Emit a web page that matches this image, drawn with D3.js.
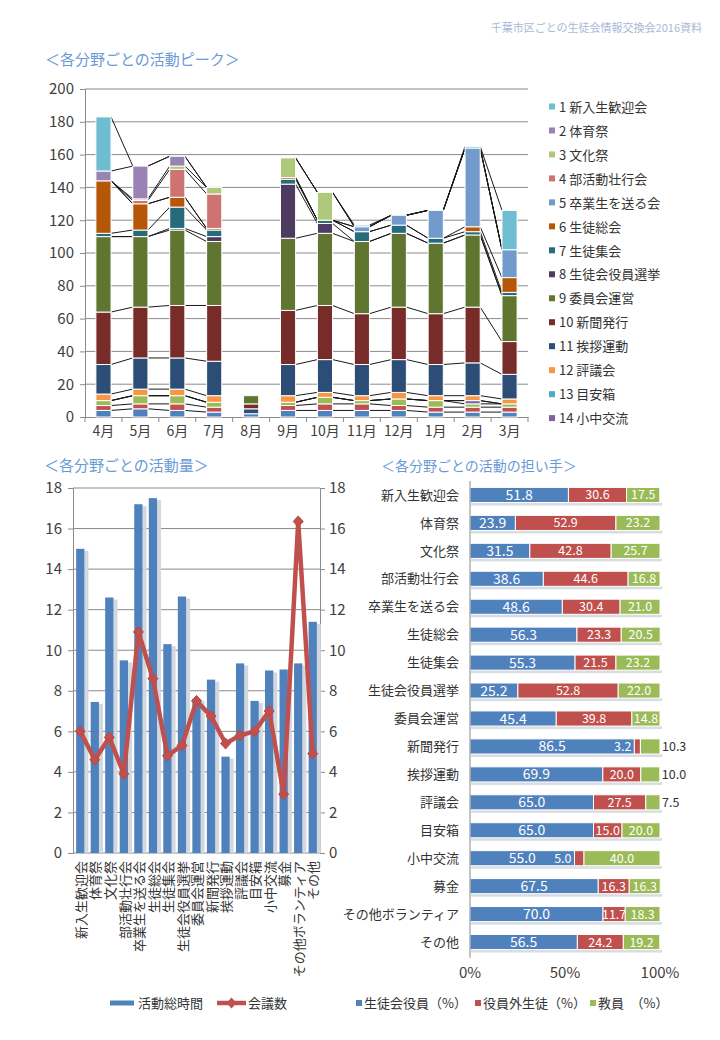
<!DOCTYPE html>
<html><head><meta charset="utf-8">
<script src="https://cdn.jsdelivr.net/npm/d3@7"></script>
<style>
body{margin:0;background:#fff}
svg{display:block}
text{font-family:"Noto Sans CJK JP","Noto Sans",sans-serif}
</style>
</head><body>
<svg id="c" width="720" height="1040"></svg>
<script>
// ---------- data: chart 1 (活動ピーク) ----------
const months = ["4月","5月","6月","7月","8月","9月","10月","11月","12月","1月","2月","3月"];
const peakSeries = ["1 新入生歓迎会","2 体育祭","3 文化祭","4 部活動壮行会","5 卒業生を送る会","6 生徒総会","7 生徒集会","8 生徒会役員選挙","9 委員会運営","10 新聞発行","11 挨拶運動","12 評議会","13 目安箱","14 小中交流","15 募金","16 その他ボランティア","17 その他"];
const peakValues = [
  [33, 0, 0, 0, 0, 0, 0, 1, 0, 0, 1,24],
  [ 6,20, 6, 0, 0, 0, 0, 0, 0, 0, 0, 0],
  [ 0, 1, 2, 4, 0,12,17, 0, 0, 0, 0, 0],
  [ 0, 2,17,21, 0, 0, 0, 0, 0, 0, 0, 0],
  [ 0, 0, 0, 0, 0, 0, 0, 3, 6,17,48,17],
  [32,16, 6, 1, 0, 1, 0, 0, 0, 0, 3, 9],
  [ 2, 4,13, 4, 0, 3, 2, 6, 5, 3, 2, 2],
  [ 0, 0, 1, 3, 0,33, 6, 0, 0, 0, 0, 0],
  [46,43,46,39, 5,44,44,44,45,43,44,28],
  [32,31,32,34, 3,33,33,31,32,31,34,20],
  [18,19,19,21, 3,19,20,19,20,19,20,15],
  [ 4, 4, 4, 4, 0, 4, 3, 3, 4, 3, 3, 3],
  [ 0, 0, 0, 0, 0, 0, 0, 0, 0, 0, 0, 0],
  [ 0, 0, 0, 0, 0, 0, 0, 0, 0, 0, 2, 0],
  [ 3, 5, 5, 3, 0, 2, 4, 2, 4, 4, 2, 2],
  [ 3, 3, 4, 3, 0, 3, 4, 4, 3, 3, 3, 3],
  [ 4, 5, 4, 3, 2, 4, 4, 4, 4, 3, 3, 3]
];
const peakColors = ["#6FBDD1","#9983B5","#AFC97A","#CD7371","#729ACA","#B65708","#276A7C","#4D3B62","#5F7530","#772C2A","#2C4D75","#F79646","#4BACC6","#8064A2","#9BBB59","#C0504D","#4F81BD"];
const peakTicks = [0,20,40,60,80,100,120,140,160,180,200];
const legendShown = 14;
const noSeriesLineMonths = ["8月"];

// ---------- data: chart 2 (活動量) ----------
const categories = ["新入生歓迎会","体育祭","文化祭","部活動壮行会","卒業生を送る会","生徒総会","生徒集会","生徒会役員選挙","委員会運営","新聞発行","挨拶運動","評議会","目安箱","小中交流","募金","その他ボランティア","その他"];
const totalHours = [15.0,7.45,12.6,9.5,17.2,17.5,10.3,12.65,7.6,8.55,4.75,9.35,7.5,9.0,9.05,9.35,11.4];
const meetings   = [6.0,4.6,5.7,3.9,10.9,8.6,4.8,5.3,7.5,6.75,5.4,5.8,6.0,7.0,2.9,16.35,4.9];
const amountTicks = [0,2,4,6,8,10,12,14,16,18];

// ---------- data: chart 3 (担い手) ----------
const officerPct  = [51.8,23.9,31.5,38.6,48.6,56.3,55.3,25.2,45.4,86.5,69.9,65.0,65.0,55.0,67.5,70.0,56.5];
const studentPct  = [30.6,52.9,42.8,44.6,30.4,23.3,21.5,52.8,39.8,3.2,20.0,27.5,15.0,5.0,16.3,11.7,24.2];
const teacherPct  = [17.5,23.2,25.7,16.8,21.0,20.5,23.2,22.0,14.8,10.3,10.0,7.5,20.0,40.0,16.3,18.3,19.2];
const shareNames  = ["生徒会役員（%）","役員外生徒（%）","教員　（%）"];
const shareColors = ["#4F81BD","#C0504D","#9BBB59"];
const shareTicks  = [0,50,100];

const svg = d3.select("#c");
const axisCol = "#404040", gridCol = "#8a8a8a", titleCol = "#6a9ad6";

// header
svg.append("text").attr("x",702).attr("y",32).attr("text-anchor","end")
  .attr("font-size",11).attr("fill","#a9b9d6").text("千葉市区ごとの生徒会情報交換会2016資料");

// ================= Chart 1 =================
{
  const g = svg.append("g");
  g.append("text").attr("x",45).attr("y",65).attr("font-size",15).attr("fill",titleCol).text("＜各分野ごとの活動ピーク＞");
  const x = d3.scaleBand().domain(months).range([85,528]).paddingInner(0.59).paddingOuter(0.295);
  const y = d3.scaleLinear().domain([0,200]).range([417,89]);
  const bw = x.bandwidth();
  // grid
  g.selectAll("line.grid").data(peakTicks.slice(1)).join("line")
    .attr("x1",85).attr("x2",528).attr("y1",d=>y(d)).attr("y2",d=>y(d))
    .attr("stroke",gridCol).attr("stroke-width",1);
  // axes
  const yAx = g.append("g").attr("transform","translate(85,0)")
    .call(d3.axisLeft(y).tickValues(peakTicks).tickSize(5).tickPadding(6));
  yAx.select(".domain").attr("stroke",gridCol);
  yAx.selectAll(".tick line").attr("stroke",gridCol);
  yAx.selectAll("text").attr("font-size",15).attr("fill",axisCol).attr("font-family","'Noto Sans CJK JP'");
  const xAx = g.append("g").attr("transform","translate(0,417)")
    .call(d3.axisBottom(x).tickSize(0).tickPadding(9));
  xAx.select(".domain").attr("stroke",gridCol);
  xAx.selectAll("text").attr("font-size",14).attr("fill",axisCol).attr("font-family","'Noto Sans CJK JP'");
  const step = x.step();
  g.selectAll("line.xt").data(d3.range(months.length+1)).join("line")
    .attr("x1",d=>85+d*step).attr("x2",d=>85+d*step).attr("y1",417).attr("y2",422)
    .attr("stroke",gridCol);

  const rows = months.map((m,j)=>{const r={month:m}; peakValues.forEach((v,i)=>r[i]=v[j]); return r;});
  const keys = d3.range(peakValues.length).reverse();
  const layers = d3.stack().keys(keys)(rows);
  // series lines
  const sl = g.append("g");
  layers.forEach(layer=>{
    for(let j=0;j<months.length-1;j++){
      if(noSeriesLineMonths.includes(months[j])||noSeriesLineMonths.includes(months[j+1])) continue;
      sl.append("line")
        .attr("x1",x(months[j])+bw).attr("y1",y(layer[j][1]))
        .attr("x2",x(months[j+1])).attr("y2",y(layer[j+1][1]))
        .attr("stroke","#1a1a1a").attr("stroke-width",1);
    }
  });
  // bars
  g.selectAll("g.layer").data(layers).join("g")
    .attr("fill",d=>peakColors[d.key])
    .selectAll("rect").data(d=>d.filter(p=>p[1]-p[0]>0)).join("rect")
    .attr("x",d=>x(d.data.month)).attr("width",bw)
    .attr("y",d=>y(d[1])).attr("height",d=>y(d[0])-y(d[1]))
    .attr("stroke","#fff").attr("stroke-width",1);
  // legend
  const lg = g.append("g");
  peakSeries.slice(0,legendShown).forEach((s,i)=>{
    const yy = 107 + i*23.97;
    lg.append("rect").attr("x",549).attr("y",yy-3.5).attr("width",6).attr("height",6).attr("fill",peakColors[i]);
    lg.append("text").attr("x",559).attr("y",yy).attr("dy","0.36em").attr("font-size",13).attr("fill","#333").text(s);
  });
}

// ================= Chart 2 =================
{
  const g = svg.append("g");
  g.append("text").attr("x",44).attr("y",471).attr("font-size",15).attr("fill",titleCol).text("＜各分野ごとの活動量＞");
  const x = d3.scaleBand().domain(categories).range([73,320]).paddingInner(0.43).paddingOuter(0.215);
  const y = d3.scaleLinear().domain([0,18]).range([853,488]);
  const bw = x.bandwidth();
  g.selectAll("line.grid").data(amountTicks.slice(1)).join("line")
    .attr("x1",73).attr("x2",320).attr("y1",d=>y(d)).attr("y2",d=>y(d))
    .attr("stroke",gridCol);
  const yl = g.append("g").attr("transform","translate(73,0)")
    .call(d3.axisLeft(y).tickValues(amountTicks).tickSize(5).tickPadding(6));
  const yr = g.append("g").attr("transform","translate(320,0)")
    .call(d3.axisRight(y).tickValues(amountTicks).tickSize(5).tickPadding(4));
  [yl,yr].forEach(a=>{
    a.select(".domain").attr("stroke",gridCol);
    a.selectAll(".tick line").attr("stroke",gridCol);
    a.selectAll("text").attr("font-size",15).attr("fill",axisCol).attr("font-family","'Noto Sans CJK JP'");
  });
  g.append("line").attr("x1",73).attr("x2",320).attr("y1",853).attr("y2",853).attr("stroke",gridCol);
  // bar shadows
  g.selectAll("rect.sh").data(categories).join("rect")
    .attr("x",d=>x(d)+bw).attr("width",4)
    .attr("y",(d,i)=>y(totalHours[i])+2).attr("height",(d,i)=>853-y(totalHours[i])-2)
    .attr("fill","#d3d8de");
  g.selectAll("rect.bar").data(categories).join("rect")
    .attr("x",d=>x(d)).attr("width",bw)
    .attr("y",(d,i)=>y(totalHours[i])).attr("height",(d,i)=>853-y(totalHours[i]))
    .attr("fill","#4F81BD");
  const line = d3.line().x((d,i)=>x(categories[i])+bw/2).y(d=>y(d));
  g.append("path").attr("d",line(meetings)).attr("fill","none")
    .attr("stroke","#C0504D").attr("stroke-width",4.5).attr("stroke-linejoin","round");
  g.selectAll("path.mk").data(meetings).join("path")
    .attr("transform",(d,i)=>`translate(${x(categories[i])+bw/2},${y(d)})`)
    .attr("d","M0,-5.5L5,0L0,5.5L-5,0Z").attr("fill","#C0504D").attr("stroke","#B94A47");
  // category labels
  g.selectAll("text.cl").data(categories).join("text")
    .attr("transform",d=>`translate(${x(d)+bw/2+1},861) rotate(-90)`)
    .attr("text-anchor","end").attr("dy","0.36em").attr("font-size",13).attr("fill","#333").text(d=>d);
  // legend
  g.append("line").attr("x1",110).attr("x2",134).attr("y1",1003).attr("y2",1003).attr("stroke","#4F81BD").attr("stroke-width",5);
  g.append("text").attr("x",138).attr("y",1003).attr("dy","0.36em").attr("font-size",13).attr("fill","#333").text("活動総時間");
  g.append("line").attr("x1",217).attr("x2",246).attr("y1",1003).attr("y2",1003).attr("stroke","#C0504D").attr("stroke-width",4.5);
  g.append("path").attr("transform","translate(231.5,1003)").attr("d","M0,-5.5L5,0L0,5.5L-5,0Z").attr("fill","#C0504D");
  g.append("text").attr("x",248).attr("y",1003).attr("dy","0.36em").attr("font-size",13).attr("fill","#333").text("会議数");
}

// ================= Chart 3 =================
{
  const g = svg.append("g");
  g.append("text").attr("x",381).attr("y",471).attr("font-size",14).attr("fill",titleCol).text("＜各分野ごとの活動の担い手＞");
  const y = d3.scaleBand().domain(categories).range([481,956]).paddingInner(0.46).paddingOuter(0.23);
  const x = d3.scaleLinear().domain([0,100]).range([470,660]);
  const bh = y.bandwidth();
  const shares = [officerPct, studentPct, teacherPct];
  const rows = categories.map((c,i)=>({cat:c, 0:officerPct[i], 1:studentPct[i], 2:teacherPct[i]}));
  const layers = d3.stack().keys([0,1,2])(rows);
  // shadows
  g.selectAll("rect.sh").data(rows).join("rect")
    .attr("x",x(0)+1).attr("width",x(100)-x(0)+1)
    .attr("y",d=>y(d.cat)+bh).attr("height",3).attr("fill","#d9dde2");
  layers.forEach(layer=>{
    const k = layer.key;
    g.selectAll(`rect.s${k}`).data(layer).join("rect")
      .attr("x",d=>x(d[0])).attr("width",d=>x(d[1])-x(d[0]))
      .attr("y",d=>y(d.data.cat)).attr("height",bh)
      .attr("fill",shareColors[k]).attr("stroke","#fff").attr("stroke-width",1);
    layer.forEach(d=>{
      const w = x(d[1])-x(d[0]);
      const v = d[1]-d[0];
      const t = g.append("text").attr("y",y(d.data.cat)+bh/2).attr("dy","0.36em")
        .attr("font-size",k===0?14:12.5).text(v.toFixed(1));
      if(w>=21){
        t.attr("x",(x(d[0])+x(d[1]))/2).attr("text-anchor","middle").attr("fill","#fff");
      } else if(k===2){
        t.attr("x",x(d[1])+2).attr("text-anchor","start").attr("fill","#333");
      } else {
        t.attr("x",x(d[0])-3).attr("text-anchor","end").attr("fill","#fff");
      }
    });
  });
  g.append("line").attr("x1",470).attr("x2",470).attr("y1",481).attr("y2",958).attr("stroke",gridCol);
  g.selectAll("text.cl").data(categories).join("text")
    .attr("x",459).attr("y",d=>y(d)+bh/2).attr("dy","0.36em").attr("text-anchor","end")
    .attr("font-size",13).attr("fill","#333").text(d=>d);
  g.selectAll("text.tk").data(shareTicks).join("text")
    .attr("x",d=>x(d)).attr("y",973).attr("dy","0.36em").attr("text-anchor","middle")
    .attr("font-size",15).attr("fill",axisCol).text(d=>d+"%");
  const lx = [356,475,590];
  shareNames.forEach((n,i)=>{
    g.append("rect").attr("x",lx[i]).attr("y",1000).attr("width",6).attr("height",6).attr("fill",shareColors[i]);
    g.append("text").attr("x",lx[i]+8).attr("y",1003).attr("dy","0.36em").attr("font-size",13).attr("fill","#333").text(n);
  });
}
</script>
</body></html>
